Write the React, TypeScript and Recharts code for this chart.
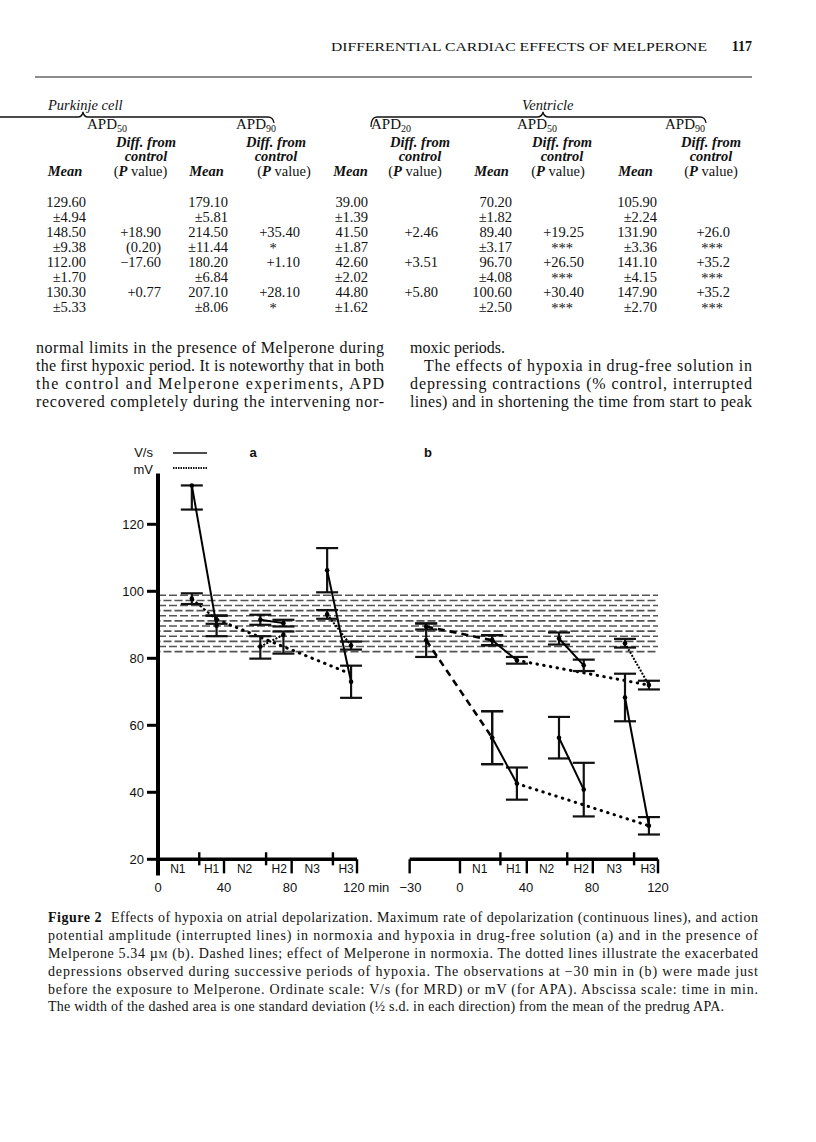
import React from 'react';
import { ComposedChart, Line, XAxis, YAxis, ErrorBar, ReferenceLine, ReferenceDot } from 'recharts';

// ---------------- chart data ----------------
const B_OFFSET = 183; // panel b sits to the right of panel a on one shared time axis

// Panel a: drug-free solution  (N1, H1, N2, H2, N3, H3)
const aTimes = [20.5, 35.5, 62, 76, 102.5, 117];
const aMrd = [131.6, 89.7, 91.5, 90.5, 106.3, 73];
const aMrdErr: any[] = [[7.2, 0], 3.1, 1.5, 1, 6.6, 4.8];
const aApa = [97.8, 91.5, 83.5, 87, 93.1, 83.8];
const aApaErr: any[] = [1.6, 1.2, [3.6, 3.1], [5.6, 1], 1.3, 1.2];
const aTrendTimes = [36, 116];
const aTrendValues = [91.5, 75.5];

// Panel b: Melperone 5.34 uM  (pre-drug, N1, H1, N2, H2, N3, H3)
const bTimes = [-20.5, 19.5, 34.5, 60, 75, 100, 114.5];
const bMrd = [85.4, 56.3, 42.6, 56.3, 40.8, 68.3, 30];
const bMrdErr: any[] = [5, 7.9, 4.8, 6.2, 8, 7.1, 2.6];
const bApa = [89.5, 85.4, 79.4, 85.9, 77.9, 84.5, 72];
const bApaErr: any[] = [0.9, 1.5, 1, 1.8, 1.7, 1.3, 1.3];

// predrug APA band (mean +/- half s.d.)
const bandTop = 98.8;
const bandBottom = 82;
const bandRows = 12;

// axis ticks / period markers
const yTicks = [20, 40, 60, 80, 100, 120];
const aTickValues = [0, 40, 80, 120];
const aTickLabels = ['0', '40', '80', '120 min'];
const bTickValues = [-30, 0, 40, 80, 120];
const bTickLabels = ['\u221230', '0', '40', '80', '120'];
const periodNames = ['N1', 'H1', 'N2', 'H2', 'N3', 'H3'];
const periodCentres = [12, 32.5, 52.5, 73.5, 93.5, 114];
const aHypoxiaStarts = [25, 65.5, 106];
const aPeriodEnds = [40, 81, 120.6];
const bHypoxiaStarts = [24.5, 65, 105.5];
const bPeriodEnds = [-30.5, 0, 40.5, 80.5, 120];

// ---------------- table data ----------------
const tableCols: string[][] = [
  ['129.60', '\u00b14.94', '148.50', '\u00b19.38', '112.00', '\u00b11.70', '130.30', '\u00b15.33'],
  ['', '', '+18.90', '(0.20)', '\u221217.60', '', '+0.77', ''],
  ['179.10', '\u00b15.81', '214.50', '\u00b111.44', '180.20', '\u00b16.84', '207.10', '\u00b18.06'],
  ['', '', '+35.40', '*', '+1.10', '', '+28.10', '*'],
  ['39.00', '\u00b11.39', '41.50', '\u00b11.87', '42.60', '\u00b12.02', '44.80', '\u00b11.62'],
  ['', '', '+2.46', '', '+3.51', '', '+5.80', ''],
  ['70.20', '\u00b11.82', '89.40', '\u00b13.17', '96.70', '\u00b14.08', '100.60', '\u00b12.50'],
  ['', '', '+19.25', '***', '+26.50', '***', '+30.40', '***'],
  ['105.90', '\u00b12.24', '131.90', '\u00b13.36', '141.10', '\u00b14.15', '147.90', '\u00b12.70'],
  ['', '', '+26.0', '***', '+35.2', '***', '+35.2', '***'],
];
const colRight = [86, 161, 228, 300, 368, 438, 512, 584, 657, 730];
const colStarCentre = [0, 0, 0, 273, 0, 0, 0, 562, 0, 712];
const rowY = [201.7, 216.7, 231.7, 246.9, 262.1, 277.1, 292.3, 307.3];
const apdLabels = ['50', '90', '20', '50', '90'];
const apdX = [87, 236, 371, 517, 665];
const diffCentres = [146, 276, 420, 562, 711];
const pvalCentres = [140.5, 284, 415, 558, 711];
const meanCentres = [65, 206.5, 350.5, 491.5, 635.5];

const leftPara = [
  'normal limits in the presence of Melperone during',
  'the first hypoxic period. It is noteworthy that in both',
  'the control and Melperone experiments, APD',
  'recovered completely during the intervening nor-',
];
const captionLines = [
  'potential amplitude (interrupted lines) in normoxia and hypoxia in drug-free solution (a) and in the presence of',
  '',
  'depressions observed during successive periods of hypoxia. The observations at \u221230 min in (b) were made just',
  'before the exposure to Melperone. Ordinate scale: V/s (for MRD) or mV (for APA). Abscissa scale: time in min.',
  'The width of the dashed area is one standard deviation (\u00bd s.d. in each direction) from the mean of the predrug APA.',
];

// ---------------- helpers ----------------
const SANS = 'Liberation Sans, Arial, sans-serif';
const SERIF = 'Liberation Serif, Times New Roman, serif';

const pair = (times: number[], vals: number[], errs: any[], i: number, j: number, off: number) =>
  [i, j].map((k) => ({ x: times[k] + off, v: vals[k], e: errs[k] }));
const trend = (times: number[], vals: number[], off: number) => times.map((t, k) => ({ x: t + off, v: vals[k] }));

const styles: Record<string, any> = {
  solid: { strokeWidth: 2 },
  fine: { strokeWidth: 2, strokeDasharray: '2 1.4' },
  dashA: { strokeWidth: 2, strokeDasharray: '3 2' },
  dash: { strokeWidth: 2.6, strokeDasharray: '7 5' },
  dot: { strokeWidth: 3, strokeDasharray: '0.5 6.3', strokeLinecap: 'round' },
};

const segments = [
  { key: 'aMrd1', pts: pair(aTimes, aMrd, aMrdErr, 0, 1, 0), s: 'solid' },
  { key: 'aApa1', pts: pair(aTimes, aApa, aApaErr, 0, 1, 0), s: 'dashA' },
  { key: 'aMrd2', pts: pair(aTimes, aMrd, aMrdErr, 2, 3, 0), s: 'solid' },
  { key: 'aApa2', pts: pair(aTimes, aApa, aApaErr, 2, 3, 0), s: 'fine' },
  { key: 'aMrd3', pts: pair(aTimes, aMrd, aMrdErr, 4, 5, 0), s: 'solid' },
  { key: 'aApa3', pts: pair(aTimes, aApa, aApaErr, 4, 5, 0), s: 'fine' },
  { key: 'bMrd0', pts: pair(bTimes, bMrd, bMrdErr, 0, 1, B_OFFSET), s: 'dash' },
  { key: 'bApa0', pts: pair(bTimes, bApa, bApaErr, 0, 1, B_OFFSET), s: 'dash' },
  { key: 'bMrd1', pts: pair(bTimes, bMrd, bMrdErr, 1, 2, B_OFFSET), s: 'solid' },
  { key: 'bApa1', pts: pair(bTimes, bApa, bApaErr, 1, 2, B_OFFSET), s: 'solid' },
  { key: 'bMrd2', pts: pair(bTimes, bMrd, bMrdErr, 3, 4, B_OFFSET), s: 'solid' },
  { key: 'bApa2', pts: pair(bTimes, bApa, bApaErr, 3, 4, B_OFFSET), s: 'solid' },
  { key: 'bMrd3', pts: pair(bTimes, bMrd, bMrdErr, 5, 6, B_OFFSET), s: 'solid' },
  { key: 'bApa3', pts: pair(bTimes, bApa, bApaErr, 5, 6, B_OFFSET), s: 'fine' },
];
const trends = [
  { key: 'aTrend', pts: trend(aTrendTimes, aTrendValues, 0) },
  { key: 'bTrendApa', pts: trend([bTimes[2], bTimes[6]], [bApa[2], bApa[6]], B_OFFSET) },
  { key: 'bTrendMrd', pts: trend([bTimes[2], bTimes[6]], [bMrd[2], bMrd[6]], B_OFFSET) },
];

const xTickValues = [...aTickValues, ...bTickValues.map((v) => v + B_OFFSET)];
const xTickLabels = [...aTickLabels, ...bTickLabels];

const XTick = (props: any) => {
  const { x, y, index } = props;
  const label = xTickLabels[index] ?? '';
  const isMin = label.endsWith('min');
  return (
    <text x={isMin ? x - 13 : x} y={y + 13} textAnchor={isMin ? 'start' : 'middle'} fontSize={13} fontFamily={SANS} fill="#111">
      {label}
    </text>
  );
};

const bandLevels = Array.from({ length: bandRows }, (_, i) => bandTop - (i * (bandTop - bandBottom)) / (bandRows - 1));

function Chart() {
  return (
    <ComposedChart width={620} height={480} margin={{ top: 24, right: 62, bottom: 10.6, left: 18 }}>
      <XAxis
        type="number"
        dataKey="x"
        domain={[0, 303]}
        ticks={xTickValues}
        interval={0}
        axisLine={false}
        tickLine={false}
        tickSize={0}
        tickMargin={0}
        height={30}
        tick={<XTick />}
        allowDataOverflow
      />
      <YAxis
        type="number"
        dataKey="v"
        domain={[14, 138]}
        ticks={yTicks}
        interval={0}
        axisLine={false}
        tickLine={{ stroke: '#000', strokeWidth: 3 }}
        tickSize={11}
        tickMargin={3}
        width={40}
        tick={{ fontSize: 13, fill: '#111', fontFamily: SANS }}
        allowDataOverflow
      />
      {bandLevels.map((lv, i) => (
        <ReferenceLine
          key={'band' + i}
          segment={[{ x: 0, y: lv }, { x: 303, y: lv }]}
          stroke="#555"
          strokeWidth={1.6}
          strokeDasharray="8 3"
          strokeDashoffset={i % 2 ? 5.5 : 0}
        />
      ))}
      {/* axes */}
      <ReferenceLine segment={[{ x: 0, y: 15.2 }, { x: 0, y: 135.2 }]} stroke="#000" strokeWidth={4} />
      <ReferenceLine segment={[{ x: 0, y: 20 }, { x: aPeriodEnds[2], y: 20 }]} stroke="#000" strokeWidth={3.5} />
      <ReferenceLine segment={[{ x: bPeriodEnds[0] + B_OFFSET, y: 20 }, { x: bPeriodEnds[4] + B_OFFSET, y: 20 }]} stroke="#000" strokeWidth={3.5} />
      {aHypoxiaStarts.map((t) => (
        <ReferenceLine key={'as' + t} segment={[{ x: t, y: 22.1 }, { x: t, y: 18.2 }]} stroke="#000" strokeWidth={2.4} />
      ))}
      {aPeriodEnds.map((t) => (
        <ReferenceLine key={'ae' + t} segment={[{ x: t, y: 20 }, { x: t, y: 15.8 }]} stroke="#000" strokeWidth={2.4} />
      ))}
      {bHypoxiaStarts.map((t) => (
        <ReferenceLine key={'bs' + t} segment={[{ x: t + B_OFFSET, y: 22.1 }, { x: t + B_OFFSET, y: 18.2 }]} stroke="#000" strokeWidth={2.4} />
      ))}
      {bPeriodEnds.map((t) => (
        <ReferenceLine key={'be' + t} segment={[{ x: t + B_OFFSET, y: 20 }, { x: t + B_OFFSET, y: 15.8 }]} stroke="#000" strokeWidth={2.4} />
      ))}
      {[0, B_OFFSET].flatMap((off) =>
        periodNames.map((n, i) => (
          <ReferenceDot
            key={n + off}
            x={periodCentres[i] + off}
            y={17.2}
            r={0}
            fill="none"
            stroke="none"
            label={{ value: n, position: 'center', fontSize: 12, fill: '#111', fontFamily: SANS }}
          />
        ))
      )}
      {trends.map((t) => (
        <Line
          key={t.key}
          data={t.pts}
          dataKey="v"
          type="linear"
          stroke="#000"
          dot={false}
          activeDot={false}
          isAnimationActive={false}
          legendType="none"
          {...styles.dot}
        />
      ))}
      {segments.map((sg) => (
        <Line
          key={sg.key}
          data={sg.pts}
          dataKey="v"
          type="linear"
          stroke="#000"
          dot={{ r: 2.3, fill: '#000', stroke: 'none' }}
          activeDot={false}
          isAnimationActive={false}
          legendType="none"
          {...styles[sg.s]}
        >
          <ErrorBar dataKey="e" width={11} strokeWidth={2.2} stroke="#111" direction="y" isAnimationActive={false} />
        </Line>
      ))}
    </ComposedChart>
  );
}

function PageText() {
  return (
    <svg width={816} height={1142} style={{ position: 'absolute', left: 0, top: 0 }} fontFamily={SERIF} fill="#111">
      {/* running head */}
      <text x={707} y={50.5} textAnchor="end" fontSize={13.5} textLength={376} lengthAdjust="spacingAndGlyphs">
        DIFFERENTIAL CARDIAC EFFECTS OF MELPERONE
      </text>
      <text x={752} y={50.5} textAnchor="end" fontSize={14} fontWeight="bold">117</text>
      <line x1={35} y1={77} x2={752} y2={77} stroke="#666" strokeWidth={1.5} />

      {/* table header */}
      <text x={48} y={109.5} fontSize={14.5} fontStyle="italic">Purkinje cell</text>
      <text x={522} y={109.5} fontSize={14.5} fontStyle="italic">Ventricle</text>
      <path d="M0 117 L78 117 Q82 117 83 112 Q84 117 88 117 L268 117 Q273 117 274 123" stroke="#111" strokeWidth={1.3} fill="none" />
      <path d="M371 127 Q371 117 377 117 L537 117 Q542 117 543 112 Q544 117 549 117 L700 117 Q705 117 706 123" stroke="#111" strokeWidth={1.3} fill="none" />
      {apdLabels.map((s, i) => (
        <text key={'apd' + i} x={apdX[i]} y={128.5} fontSize={15}>
          APD<tspan fontSize={10} dy={3}>{s}</tspan>
        </text>
      ))}
      {diffCentres.map((c, i) => (
        <g key={'dh' + i}>
          <text x={c} y={146.5} textAnchor="middle" fontSize={14.5} fontStyle="italic" fontWeight="bold">Diff. from</text>
          <text x={c} y={161} textAnchor="middle" fontSize={14.5} fontStyle="italic" fontWeight="bold">control</text>
        </g>
      ))}
      {meanCentres.map((c, i) => (
        <text key={'mh' + i} x={c} y={176} textAnchor="middle" fontSize={14.5} fontStyle="italic" fontWeight="bold">Mean</text>
      ))}
      {pvalCentres.map((c, i) => (
        <text key={'ph' + i} x={c} y={176} textAnchor="middle" fontSize={14.5}>
          (<tspan fontStyle="italic" fontWeight="bold">P</tspan> value)
        </text>
      ))}
      {tableCols.map((col, ci) =>
        col.map((s, ri) => {
          if (!s) return null;
          const star = s.startsWith('*');
          return (
            <text
              key={ci + '-' + ri}
              x={star ? colStarCentre[ci] : colRight[ci]}
              y={rowY[ri] + (star ? 6 : 5)}
              textAnchor={star ? 'middle' : 'end'}
              fontSize={14.5}
            >
              {s}
            </text>
          );
        })
      )}

      {/* body text */}
      {leftPara.map((s, i) => (
        <text key={'lp' + i} x={36} y={353 + i * 18} fontSize={16} textLength={348} lengthAdjust="spacing">{s}</text>
      ))}
      <text x={410} y={353} fontSize={16}>moxic periods.</text>
      <text x={424} y={371} fontSize={16} textLength={328} lengthAdjust="spacing">The effects of hypoxia in drug-free solution in</text>
      <text x={410} y={389} fontSize={16} textLength={342} lengthAdjust="spacing">depressing contractions (% control, interrupted</text>
      <text x={410} y={407} fontSize={16} textLength={342} lengthAdjust="spacing">lines) and in shortening the time from start to peak</text>

      {/* chart legend & panel letters */}
      <g fontFamily={SANS}>
        <text x={153} y={457} textAnchor="end" fontSize={13}>V/s</text>
        <line x1={173} y1={453} x2={207} y2={453} stroke="#111" strokeWidth={1.6} />
        <text x={153} y={474} textAnchor="end" fontSize={13}>mV</text>
        <line x1={173} y1={468} x2={207} y2={468} stroke="#111" strokeWidth={2} strokeDasharray="1.5 1" />
        <text x={253} y={457} textAnchor="middle" fontSize={13} fontWeight="bold">a</text>
        <text x={428} y={457} textAnchor="middle" fontSize={13} fontWeight="bold">b</text>
      </g>

      {/* caption */}
      <text x={48} y={922} fontSize={14} textLength={710} lengthAdjust="spacing">
        <tspan fontWeight="bold">Figure 2</tspan>
        <tspan dx={9}>Effects of hypoxia on atrial depolarization. Maximum rate of depolarization (continuous lines), and action</tspan>
      </text>
      <text x={48} y={940} fontSize={14} textLength={710} lengthAdjust="spacing">{captionLines[0]}</text>
      <text x={48} y={958} fontSize={14} textLength={710} lengthAdjust="spacing">
        Melperone 5.34 {'\u00b5'}<tspan fontSize={10}>M</tspan> (b). Dashed lines; effect of Melperone in normoxia. The dotted lines illustrate the exacerbated
      </text>
      <text x={48} y={976} fontSize={14} textLength={710} lengthAdjust="spacing">{captionLines[2]}</text>
      <text x={48} y={994} fontSize={14} textLength={710} lengthAdjust="spacing">{captionLines[3]}</text>
      <text x={48} y={1011} fontSize={14} textLength={676} lengthAdjust="spacing">{captionLines[4]}</text>
    </svg>
  );
}

export default function App() {
  return (
    <div style={{ position: 'absolute', left: 0, top: 0, width: 816, height: 1142, background: '#fff' }}>
      <PageText />
      <div style={{ position: 'absolute', left: 100, top: 440, width: 620, height: 480 }}>
        <Chart />
      </div>
    </div>
  );
}
